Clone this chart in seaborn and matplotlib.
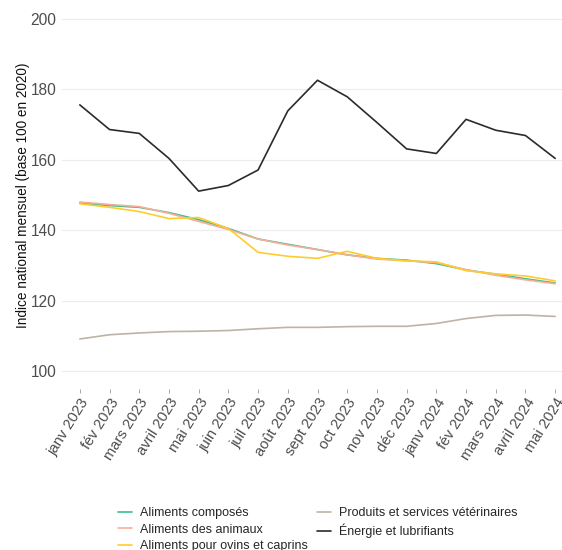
import numpy as np
import pandas as pd
import matplotlib
matplotlib.use("Agg")
import matplotlib.pyplot as plt
import seaborn as sns

months = ["janv 2023", "fév 2023", "mars 2023", "avril 2023", "mai 2023", "juin 2023",
          "juil 2023", "août 2023", "sept 2023", "oct 2023", "nov 2023", "déc 2023",
          "janv 2024", "fév 2024", "mars 2024", "avril 2024", "mai 2024"]

aliments_composes = [147.7, 147.0, 146.5, 145.0, 143.0, 140.5, 137.5, 136.0, 134.5, 133.0,
                     132.0, 131.5, 130.5, 128.7, 127.5, 126.2, 125.0]
aliments_animaux = [148.0, 147.3, 146.7, 144.8, 142.5, 140.2, 137.5, 135.8, 134.5, 133.0,
                    131.8, 131.3, 130.8, 128.8, 127.2, 125.9, 124.8]
aliments_ovins = [147.5, 146.5, 145.3, 143.3, 143.6, 140.5, 133.7, 132.6, 132.0, 134.0,
                  132.0, 131.3, 131.0, 128.5, 127.6, 127.0, 125.6]
produits_veterinaires = [109.1, 110.3, 110.8, 111.2, 111.3, 111.5, 112.0, 112.4, 112.4, 112.6,
                         112.7, 112.7, 113.5, 114.9, 115.8, 115.9, 115.5]
energie = [175.6, 168.6, 167.5, 160.4, 151.1, 152.7, 157.1, 173.9, 182.6, 177.9,
           170.6, 163.1, 161.8, 171.5, 168.4, 166.9, 160.4]

series_names = ["Aliments composés", "Aliments des animaux", "Aliments pour ovins et caprins",
                "Produits et services vétérinaires", "Énergie et lubrifiants"]
series_values = [aliments_composes, aliments_animaux, aliments_ovins,
                 produits_veterinaires, energie]
colors = ["#3cbf88", "#f7ad98", "#ffcc2e", "#bdb3a7", "#2b2b2b"]

rows = []
for name, vals in zip(series_names, series_values):
    for i, v in enumerate(vals):
        rows.append({"idx": i, "mois": months[i], "serie": name, "valeur": v})
df = pd.DataFrame(rows)

sns.set_theme(style="white")
plt.rcParams["font.family"] = ["Liberation Sans", "DejaVu Sans"]

W, H = 562, 550
fig = plt.figure(figsize=(W / 100, H / 100), dpi=100)
# panel extends slightly beyond the right edge of the figure (cropped like the reference)
left_px, right_px, top_px, bottom_px = 62, 573, 1.4, 388.6
ax = fig.add_axes([left_px / W, 1 - bottom_px / H, (right_px - left_px) / W,
                   (bottom_px - top_px) / H])

sns.lineplot(data=df, x="idx", y="valeur", hue="serie", hue_order=series_names,
             palette=colors, linewidth=1.2, ax=ax, legend=True)

ax.set_xlim(-0.6, 16.6)
ax.set_ylim(95, 205)
ax.set_yticks([100, 120, 140, 160, 180, 200])
ax.set_xticks(range(len(months)))
ax.set_xticklabels(months, rotation=58, ha="right", va="top", rotation_mode="anchor",
                   fontsize=10.6, color="#4d4d4d")
ax.tick_params(axis="y", labelsize=11.2, labelcolor="#4d4d4d", length=0, pad=4)
ax.tick_params(axis="x", length=3, width=0.6, color="#9a9a9a", direction="out",
               bottom=True, pad=2)
ax.yaxis.grid(True, color="#ececec", linewidth=0.8)
ax.xaxis.grid(False)
for s in ax.spines.values():
    s.set_visible(False)
ax.set_xlabel("")
ax.set_ylabel("Indice national mensuel (base 100 en 2020)", fontsize=9.8, color="#111111",
              labelpad=0.5)

handles, labels = ax.get_legend_handles_labels()
ax.get_legend().remove()
fig.legend(handles, labels, loc="upper left", ncol=2, frameon=False,
           bbox_to_anchor=(118 / W, 1 - 507 / H), fontsize=9,
           handlelength=1.12, handletextpad=0.64, columnspacing=0.75,
           labelspacing=0.38, borderpad=0, borderaxespad=0)

fig.savefig("out.png", dpi=100)
